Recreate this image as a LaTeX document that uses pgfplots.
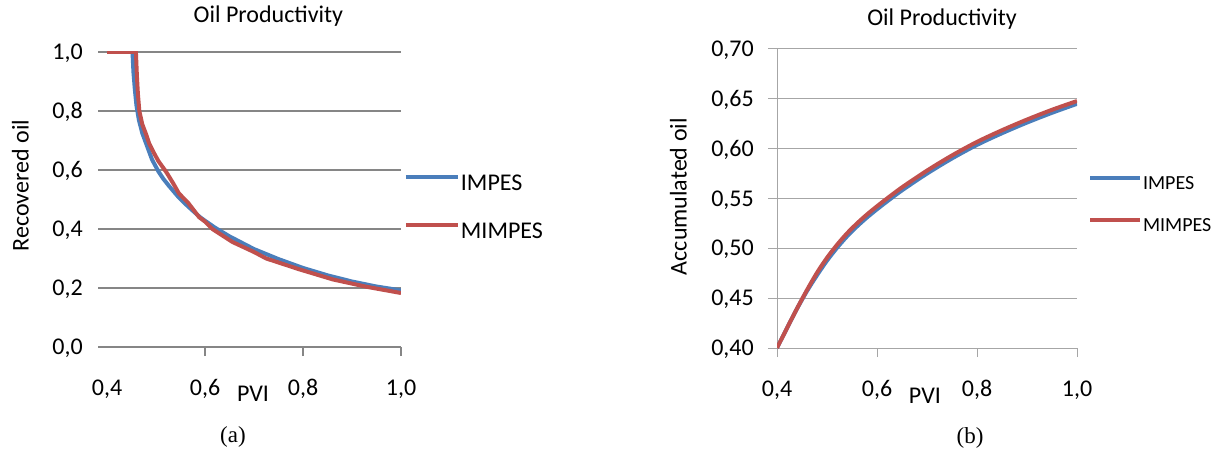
\documentclass[border=0pt]{standalone}
\usepackage{pgfplots}
\pgfplotsset{compat=1.18}
\usepackage{fontspec}
\setmainfont{Carlito}
\newfontfamily\capfont{Liberation Serif}
\definecolor{cblue}{RGB}{74,126,187}
\definecolor{cred}{RGB}{192,80,77}
\definecolor{gridL}{RGB}{134,134,134}
\definecolor{gridR}{RGB}{166,166,166}
\newcommand\fA{\fontsize{24}{28}\selectfont}
\newcommand\fB{\fontsize{20}{24}\selectfont}
\pgfplotsset{
  myax/.style={
    scale only axis, anchor=south west,
    axis x line=bottom, axis y line=left,
    axis line style={-},
    tick align=outside, major tick length=9pt,
    xmin=0.4, xmax=1.0,
    ymajorgrids,
    /pgf/number format/assume math mode=true,
    /pgf/number format/use comma,
    /pgf/number format/fixed,
    /pgf/number format/fixed zerofill,
    xticklabel style={font=\fA, anchor=base, inner sep=0pt, yshift=-39pt, /pgf/number format/precision=1},
    yticklabel style={font=\fA, anchor=base east, inner sep=0pt, yshift=-7.5pt},
    label style={font=\fA},
    title style={font=\fA, anchor=base},
    legend cell align=left,
    every axis plot/.append style={line width=4pt},
  }
}
\begin{document}
\begin{tikzpicture}
\path[use as bounding box] (0,0) rectangle (1217pt,450pt);
% ---------- (a)
\begin{axis}[myax,
  at={(107pt,103pt)}, width=294pt, height=295pt,
  ymin=0, ymax=1.0, ytick={0,0.2,0.4,0.6,0.8,1.0},
  xtick={0.6,0.8,1.0}, extra x ticks={0.4},
  extra x tick style={tick style={draw=none}},
  yticklabel style={xshift=-15pt, /pgf/number format/precision=1},
  grid style={gridL, line width=1.3pt},
  x axis line style={gridL, line width=1.3pt},
  y axis line style={draw=none},
  tick style={gridL, line width=1.3pt},
  title={Oil Productivity},
  title style={at={(axis description cs:0.549,1.081)}},
  xlabel={PVI},
  xlabel style={at={(axis description cs:0.4966,-0.1864)}, anchor=base},
  ylabel={Recovered oil},
  ylabel style={at={(axis description cs:-0.267,0.5475)}, anchor=base},
  legend style={at={(axis description cs:1.010,0.4688)}, anchor=west, draw=none, fill=none,
    inner sep=0pt, outer sep=0pt, font=\fA, row sep=27pt,
    nodes={inner sep=0pt, text height=16pt, text depth=5pt},
    /tikz/every odd column/.append style={column sep=1pt}},
  legend image code/.code={\draw[#1] (0pt,7.5pt) -- (52pt,7.5pt);},
]
\addplot[cblue] coordinates {
(0.40,1.0) (0.452,1.0) (0.454,0.93) (0.457,0.87) (0.460,0.82) (0.465,0.77)
(0.472,0.725) (0.482,0.68) (0.492,0.635) (0.505,0.595) (0.515,0.57) (0.527,0.545)
(0.545,0.51) (0.56,0.485) (0.575,0.462) (0.59,0.44) (0.60,0.428) (0.62,0.405)
(0.65,0.375) (0.70,0.332) (0.75,0.298) (0.80,0.268) (0.85,0.243) (0.90,0.222)
(0.95,0.205) (1.0,0.192)};
\addlegendentry{IMPES}
\addplot[cred] coordinates {
(0.40,1.0) (0.459,1.0) (0.461,0.92) (0.463,0.86) (0.466,0.80) (0.472,0.755)
(0.480,0.72) (0.486,0.69) (0.495,0.66) (0.505,0.63) (0.521,0.593) (0.535,0.555)
(0.547,0.52) (0.565,0.49) (0.588,0.44) (0.60,0.425) (0.615,0.40) (0.656,0.356)
(0.70,0.322) (0.725,0.30) (0.793,0.263) (0.861,0.229) (0.93,0.204) (1.0,0.183)};
\addlegendentry{MIMPES}
\end{axis}
\node[font=\capfont\fontsize{23}{26}\selectfont] at (233pt,13pt) {(a)};
% ---------- (b)
\begin{axis}[myax,
  at={(777pt,102pt)}, width=300pt, height=299pt,
  ymin=0.4, ymax=0.7, ytick={0.40,0.45,0.50,0.55,0.60,0.65,0.70},
  xtick={0.4,0.6,0.8,1.0},
  yticklabel style={xshift=-14pt, /pgf/number format/precision=2},
  grid style={gridR, line width=1pt},
  axis line style={gridR, line width=1pt},
  tick style={gridR, line width=1pt},
  title={Oil Productivity},
  title style={at={(axis description cs:0.55,1.057)}},
  xlabel={PVI},
  xlabel style={at={(axis description cs:0.493,-0.184)}, anchor=base},
  ylabel={Accumulated oil},
  ylabel style={at={(axis description cs:-0.301,0.506)}, anchor=base},
  legend style={at={(axis description cs:1.0367,0.4756)}, anchor=west, draw=none, fill=none,
    inner sep=0pt, outer sep=0pt, font=\fB, row sep=25pt,
    nodes={inner sep=0pt, text height=13pt, text depth=4pt},
    /tikz/every odd column/.append style={column sep=1pt}},
  legend image code/.code={\draw[#1] (0pt,6.3pt) -- (50pt,6.3pt);},
]
\addplot[cblue, smooth] coordinates {
(0.40,0.4000) (0.42,0.4200) (0.44,0.4394) (0.46,0.4572) (0.48,0.4730) (0.50,0.4877)
(0.52,0.5005) (0.54,0.5120) (0.56,0.5220) (0.58,0.5310) (0.60,0.5392) (0.62,0.5470)
(0.65,0.5582) (0.70,0.5750) (0.75,0.5902) (0.80,0.6038) (0.85,0.6155) (0.90,0.6262)
(0.95,0.6360) (1.00,0.6450)};
\addlegendentry{IMPES}
\addplot[cred, smooth] coordinates {
(0.40,0.4000) (0.42,0.4200) (0.44,0.4396) (0.46,0.4582) (0.48,0.4755) (0.50,0.4905)
(0.52,0.5035) (0.54,0.5150) (0.56,0.5250) (0.58,0.5340) (0.60,0.5422) (0.62,0.5500)
(0.65,0.5612) (0.70,0.5780) (0.75,0.5932) (0.80,0.6068) (0.85,0.6185) (0.90,0.6292)
(0.95,0.6390) (1.00,0.6478)};
\addlegendentry{MIMPES}
\end{axis}
\node[font=\capfont\fontsize{23}{26}\selectfont] at (970pt,12pt) {(b)};
\end{tikzpicture}
\end{document}
